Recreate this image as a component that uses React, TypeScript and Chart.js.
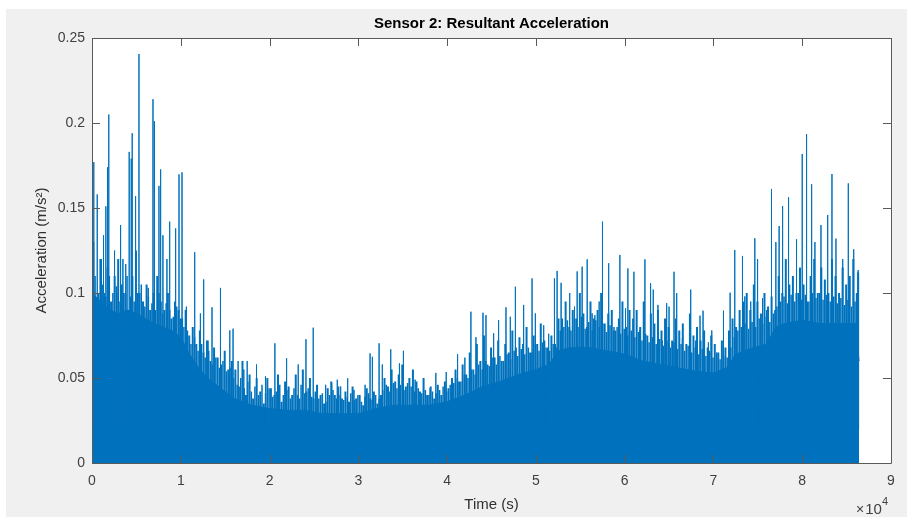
import React, { useEffect, useRef } from "react";
import { Chart, registerables } from "chart.js";

Chart.register(...registerables);

// ---- data ----
const titleText = "Sensor 2: Resultant Acceleration";
const xTitle = "Time (s)";
const yTitle = "Acceleration (m/s²)";

// dense (solid) part of the signal, upper edge
const coreTimes = [0, 1000, 2000, 3000, 4000, 5000, 6000, 7000, 8000, 9000, 10000, 11000, 12000, 13000, 14000, 15000, 16000, 18000, 20000, 22000, 24000, 26000, 28000, 30000, 32000, 34000, 36000, 38000, 40000, 42000, 44000, 46000, 48000, 50000, 51500, 52500, 54000, 56000, 58000, 60000, 62000, 64000, 66000, 68000, 70000, 71500, 72500, 74000, 76000, 77000, 78000, 80000, 82000, 84000, 86000, 86400];
const coreValues = [0.1, 0.095, 0.09, 0.088, 0.09, 0.088, 0.085, 0.082, 0.08, 0.078, 0.074, 0.064, 0.056, 0.05, 0.046, 0.042, 0.038, 0.034, 0.032, 0.031, 0.031, 0.029, 0.029, 0.029, 0.032, 0.034, 0.034, 0.034, 0.036, 0.04, 0.045, 0.048, 0.052, 0.055, 0.058, 0.066, 0.068, 0.068, 0.066, 0.064, 0.06, 0.058, 0.056, 0.054, 0.053, 0.056, 0.064, 0.067, 0.07, 0.08, 0.082, 0.084, 0.082, 0.082, 0.082, 0.06];

// dense medium-height peaks, one every 400 s (first layer)
const fringeStep = 400;
const fringeValues = [
  0.13, 0.09, 0.12, 0.1, 0.115, 0.095, 0.11, 0.12, 0.105, 0.1, 0.09, 0.11, 0.125, 0.1, 0.095, 0.105, 0.09, 0.1, 0.11, 0.095, 0.09, 0.1, 0.085, 0.095, 0.09,
  0.085, 0.09, 0.075, 0.08, 0.07, 0.078, 0.065, 0.072, 0.06, 0.068, 0.062, 0.058, 0.066, 0.055, 0.06,
  0.055, 0.045, 0.06, 0.04, 0.052, 0.038, 0.05, 0.042, 0.035, 0.05, 0.044, 0.04, 0.052, 0.036, 0.048, 0.045, 0.04, 0.052, 0.038, 0.055, 0.042, 0.05, 0.038, 0.046, 0.04, 0.035, 0.044, 0.048, 0.04, 0.045, 0.038,
  0.042, 0.036, 0.045, 0.038, 0.04, 0.034, 0.044, 0.038, 0.042, 0.035, 0.04, 0.05, 0.045, 0.055, 0.048, 0.052, 0.058, 0.045, 0.05, 0.055, 0.048, 0.042, 0.05, 0.04, 0.045, 0.038, 0.046, 0.04, 0.048, 0.044,
  0.05, 0.055, 0.048, 0.058, 0.052, 0.065, 0.055, 0.07, 0.06, 0.075, 0.058, 0.068, 0.062, 0.072, 0.06, 0.07, 0.065, 0.078, 0.068, 0.074, 0.07, 0.08, 0.065, 0.075, 0.07, 0.082, 0.072, 0.068, 0.075, 0.07, 0.085,
  0.085, 0.095, 0.08, 0.09, 0.085, 0.1, 0.088, 0.08, 0.095, 0.085, 0.09, 0.1, 0.082, 0.088, 0.09, 0.078, 0.085, 0.095, 0.08, 0.09,
  0.085, 0.09, 0.08, 0.095, 0.075, 0.088, 0.082, 0.09, 0.078, 0.085, 0.08, 0.072, 0.085, 0.078, 0.082, 0.07, 0.088, 0.075, 0.08, 0.072, 0.078, 0.068, 0.075, 0.07, 0.065, 0.072, 0.068, 0.078, 0.085, 0.08,
  0.09, 0.095, 0.1, 0.09, 0.105, 0.095, 0.088, 0.1, 0.092, 0.098, 0.09, 0.11, 0.1, 0.12, 0.105, 0.11, 0.1, 0.115, 0.105, 0.095, 0.11, 0.12, 0.1, 0.115, 0.108, 0.1, 0.12, 0.11, 0.1, 0.115, 0.105, 0.11, 0.12, 0.1, 0.108, 0.112, 0.105, 0.1,
];

// second layer of medium peaks, between those of the first layer
const fringe2Values = [
  0.11, 0.1, 0.105, 0.098, 0.11, 0.1, 0.104, 0.095, 0.1, 0.11, 0.098, 0.095, 0.1, 0.105, 0.092, 0.098, 0.094, 0.09, 0.1, 0.088, 0.094, 0.09, 0.086, 0.092, 0.085,
  0.08, 0.078, 0.07, 0.074, 0.066, 0.07, 0.062, 0.066, 0.058, 0.062, 0.056, 0.06, 0.054, 0.056, 0.05,
  0.046, 0.05, 0.044, 0.048, 0.042, 0.045, 0.04, 0.046, 0.041, 0.044, 0.039, 0.042, 0.046, 0.04, 0.043, 0.038, 0.044, 0.04, 0.046, 0.041, 0.044, 0.039, 0.042, 0.038, 0.041, 0.036, 0.04, 0.043, 0.038, 0.04, 0.037,
  0.039, 0.041, 0.037, 0.04, 0.036, 0.039, 0.041, 0.037, 0.04, 0.038, 0.043, 0.046, 0.042, 0.047, 0.044, 0.046, 0.043, 0.047, 0.045, 0.042, 0.044, 0.041, 0.043, 0.04, 0.042, 0.041, 0.043, 0.045, 0.042, 0.046,
  0.047, 0.05, 0.048, 0.052, 0.05, 0.055, 0.052, 0.058, 0.055, 0.06, 0.057, 0.062, 0.058, 0.063, 0.06, 0.064, 0.061, 0.066, 0.063, 0.067, 0.064, 0.068, 0.065, 0.07, 0.066, 0.071, 0.068, 0.066, 0.07, 0.068, 0.078,
  0.08, 0.084, 0.078, 0.085, 0.08, 0.086, 0.079, 0.083, 0.078, 0.084, 0.08, 0.082, 0.077, 0.081, 0.078, 0.08, 0.076, 0.079, 0.075, 0.078,
  0.074, 0.077, 0.072, 0.076, 0.071, 0.074, 0.07, 0.073, 0.069, 0.072, 0.068, 0.071, 0.067, 0.07, 0.066, 0.069, 0.065, 0.068, 0.064, 0.067, 0.063, 0.066, 0.062, 0.064, 0.061, 0.063, 0.062, 0.068, 0.074, 0.078,
  0.08, 0.082, 0.079, 0.083, 0.08, 0.085, 0.082, 0.086, 0.083, 0.088, 0.092, 0.095, 0.098, 0.094, 0.099, 0.095, 0.1, 0.096, 0.099, 0.095, 0.1, 0.097, 0.1, 0.096, 0.099, 0.095, 0.098, 0.094, 0.097, 0.093, 0.096, 0.092, 0.095, 0.093, 0.09,
];

// individual tall peaks
const spikeTimes = [200, 590, 1070, 1300, 1560, 1750, 1890, 2540, 2960, 3220, 3480, 3800, 4190, 4420, 4530, 4910, 5290, 6340, 6870, 7030, 7540, 7730, 7990, 8440, 8750, 9420, 9800, 10140, 10630, 11570, 12210, 12580, 13070, 13520, 14470, 15520, 15890, 16460, 17100, 17480, 18530, 19540, 20600, 21920, 23230, 24100, 24920, 26320, 27000, 27630, 28010, 28800, 29510, 30760, 31320, 31580, 32340, 32700, 33650, 34630, 35080, 36400, 37340, 38090, 38730, 39900, 41180, 42000, 42680, 43250, 44040, 44380, 45240, 45800, 46630, 47120, 47690, 48620, 49570, 49940, 50880, 51440, 52090, 52390, 52840, 53810, 54350, 54650, 55210, 55780, 56340, 56640, 57130, 57500, 58200, 58800, 59460, 60100, 60360, 61040, 61680, 62280, 62920, 63220, 63750, 64240, 64730, 65000, 65560, 65860, 66500, 67440, 68000, 68490, 68830, 69430, 69810, 70370, 71130, 71880, 72400, 73270, 73530, 74200, 74660, 74970, 75530, 75980, 76540, 77030, 77400, 77790, 78460, 78900, 79360, 80000, 80490, 81060, 81430, 82110, 82870, 83350, 83800, 84560, 85190, 85800, 86360];
const spikeValues = [0.177, 0.158, 0.12, 0.134, 0.151, 0.174, 0.205, 0.125, 0.1, 0.14, 0.12, 0.117, 0.183, 0.179, 0.194, 0.157, 0.2406, 0.103, 0.214, 0.201, 0.163, 0.1727, 0.134, 0.12, 0.142, 0.138, 0.1698, 0.171, 0.092, 0.124, 0.088, 0.108, 0.072, 0.0916, 0.103, 0.078, 0.079, 0.06, 0.055, 0.06, 0.058, 0.051, 0.0704, 0.0616, 0.058, 0.0728, 0.0796, 0.046, 0.047, 0.049, 0.045, 0.0498, 0.043, 0.046, 0.0645, 0.0625, 0.0704, 0.058, 0.0669, 0.0586, 0.066, 0.049, 0.047, 0.044, 0.053, 0.0535, 0.064, 0.062, 0.089, 0.074, 0.0884, 0.087, 0.0763, 0.084, 0.0916, 0.086, 0.1037, 0.093, 0.1086, 0.088, 0.081, 0.076, 0.1086, 0.113, 0.106, 0.1, 0.092, 0.1127, 0.1155, 0.1198, 0.088, 0.087, 0.095, 0.142, 0.1175, 0.08, 0.1224, 0.091, 0.1145, 0.1125, 0.078, 0.1198, 0.1057, 0.102, 0.093, 0.072, 0.094, 0.092, 0.1125, 0.1, 0.0735, 0.102, 0.072, 0.0867, 0.0896, 0.071, 0.078, 0.065, 0.0896, 0.1002, 0.1253, 0.1218, 0.098, 0.095, 0.1322, 0.12, 0.097, 0.09, 0.1612, 0.13, 0.1394, 0.1512, 0.1563, 0.097, 0.1316, 0.1818, 0.1935, 0.164, 0.13, 0.14, 0.1459, 0.17, 0.132, 0.12, 0.1645, 0.1257, 0.1135];
const spikeBase = 0.02;
const lastTime = 86300;

const xMin = 0;
const xMax = 90000;
const xStep = 10000;
const yMin = 0;
const yMax = 0.25;
const yStep = 0.05;

const BLUE = "#0072BD";

const framePlugin = {
  id: "matlabFrame",
  beforeDraw(chart: any) {
    const { ctx, width, height, chartArea: a } = chart;
    ctx.save();
    ctx.fillStyle = "#ffffff";
    ctx.fillRect(0, 0, width, height);
    ctx.fillStyle = "#f0f0f0";
    ctx.fillRect(6, 9, width - 6, height - 9);
    ctx.fillStyle = "#ffffff";
    ctx.fillRect(a.left, a.top, a.right - a.left, a.bottom - a.top);
    ctx.restore();
  },
  afterDraw(chart: any) {
    const { ctx, chartArea: a } = chart;
    const xs = chart.scales.x;
    const ys = chart.scales.y;
    const tl = 8;
    ctx.save();
    ctx.strokeStyle = "#5a5a5a";
    ctx.lineWidth = 1;
    ctx.beginPath();
    ctx.rect(Math.round(a.left) + 0.5, Math.round(a.top) + 0.5, Math.round(a.right - a.left), Math.round(a.bottom - a.top));
    ctx.stroke();
    ctx.beginPath();
    xs.ticks.forEach((t: any) => {
      const px = Math.round(xs.getPixelForValue(t.value)) + 0.5;
      ctx.moveTo(px, a.bottom);
      ctx.lineTo(px, a.bottom - tl);
      ctx.moveTo(px, a.top);
      ctx.lineTo(px, a.top + tl);
    });
    ys.ticks.forEach((t: any) => {
      const py = Math.round(ys.getPixelForValue(t.value)) + 0.5;
      ctx.moveTo(a.left, py);
      ctx.lineTo(a.left + tl, py);
      ctx.moveTo(a.right, py);
      ctx.lineTo(a.right - tl, py);
    });
    ctx.stroke();

    // title
    ctx.fillStyle = "#000000";
    ctx.font = "bold 15px 'Liberation Sans', Arial, sans-serif";
    ctx.textAlign = "center";
    ctx.textBaseline = "middle";
    ctx.fillText(titleText, (a.left + a.right) / 2, 24);

    // exponent label
    ctx.fillStyle = "#404040";
    ctx.textAlign = "right";
    ctx.textBaseline = "alphabetic";
    ctx.font = "11px 'Liberation Sans', Arial, sans-serif";
    ctx.fillText("4", a.right - 3, 505);
    const w4 = ctx.measureText("4").width;
    ctx.font = "15px 'Liberation Sans', Arial, sans-serif";
    ctx.fillText("10", a.right - 3 - w4, 514);
    const w10 = ctx.measureText("10").width;
    ctx.font = "14px 'Liberation Sans', Arial, sans-serif";
    ctx.fillText("×", a.right - 4 - w4 - w10, 514);
    ctx.restore();
  },
};

function peaksToLine(times: number[], values: number[]) {
  const pts: { x: number; y: number }[] = [];
  values.forEach((v, i) => {
    const t = Math.min(times[i], lastTime);
    pts.push({ x: t, y: spikeBase });
    pts.push({ x: t, y: v });
    pts.push({ x: t, y: spikeBase });
  });
  return pts;
}

export default function App() {
  const ref = useRef<HTMLCanvasElement | null>(null);

  useEffect(() => {
    if (!ref.current) return;
    const core = coreTimes.map((t, i) => ({ x: t, y: coreValues[i] }));
    const spikes = peaksToLine(spikeTimes, spikeValues);
    const fringe = peaksToLine(fringeValues.map((_, i) => i * fringeStep + 150), fringeValues);
    const fringe2 = peaksToLine(fringe2Values.map((_, i) => i * fringeStep + 350), fringe2Values);
    const font = { family: "'Liberation Sans', Arial, sans-serif", size: 14 };
    const lineDs = (data: any[], w: number) => ({
      data,
      borderColor: BLUE,
      borderWidth: w,
      pointRadius: 0,
      fill: false,
      tension: 0,
    });
    const chart = new Chart(ref.current, {
      type: "line",
      data: {
        datasets: [
          lineDs(spikes, 1),
          lineDs(fringe, 2),
          lineDs(fringe2, 1.5),
          {
            data: core,
            borderColor: BLUE,
            backgroundColor: BLUE,
            borderWidth: 1,
            pointRadius: 0,
            fill: "origin",
            tension: 0,
          },
        ],
      },
      options: {
        animation: false,
        responsive: false,
        events: [],
        layout: { padding: { left: 0, right: 16, top: 38, bottom: 0 } },
        plugins: { legend: { display: false }, tooltip: { enabled: false }, title: { display: false } },
        scales: {
          x: {
            type: "linear",
            min: xMin,
            max: xMax,
            grid: { display: false, drawTicks: false },
            border: { display: false },
            ticks: {
              stepSize: xStep,
              padding: 10,
              color: "#404040",
              font,
              maxRotation: 0,
              callback: (v: any) => String(Number(v) / 10000),
            },
            title: {
              display: true,
              text: xTitle,
              color: "#303030",
              font: { family: font.family, size: 15 },
              padding: { top: 0, bottom: 3 },
            },
            afterFit: (s: any) => {
              s.height = 54;
            },
          },
          y: {
            type: "linear",
            min: yMin,
            max: yMax,
            grid: { display: false, drawTicks: false },
            border: { display: false },
            ticks: {
              stepSize: yStep,
              padding: 7,
              color: "#404040",
              font,
              callback: (v: any) => String(parseFloat(Number(v).toFixed(4))),
            },
            title: {
              display: true,
              text: yTitle,
              color: "#303030",
              font: { family: font.family, size: 15 },
              padding: { top: 33, bottom: 0 },
            },
            afterFit: (s: any) => {
              s.width = 92;
            },
          },
        },
      },
      plugins: [framePlugin],
    });
    return () => chart.destroy();
  }, []);

  return (
    <div style={{ position: "fixed", left: 0, top: 0, width: 907, height: 517 }}>
      <canvas ref={ref} width={907} height={517} style={{ display: "block" }} />
    </div>
  );
}
